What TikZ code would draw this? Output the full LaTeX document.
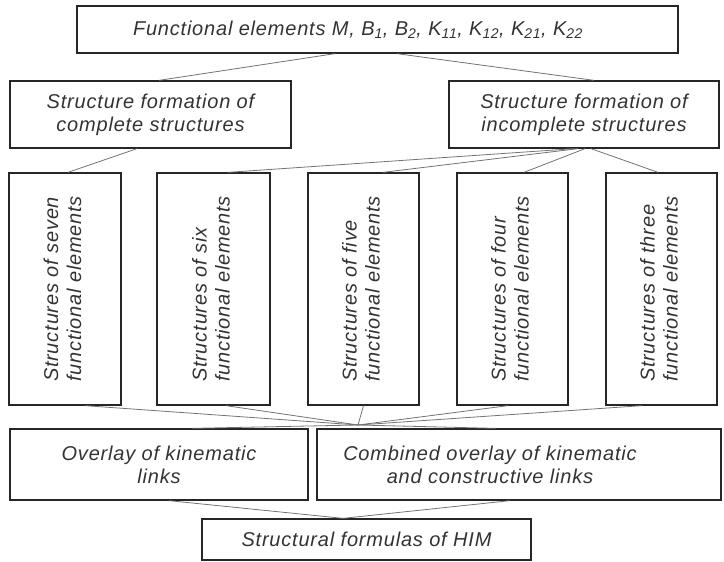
\documentclass[tikz,border=0pt]{standalone}
\usepackage{fontspec}
\usepackage{graphicx}
\setmainfont{Liberation Sans}[LetterSpace=4]
\begin{document}
\begin{tikzpicture}[x=1pt,y=-1pt,
  lbl/.style={font=\itshape\fontsize{20}{23}\selectfont, text=black!80, align=center},
  box/.style={lbl, draw=black!85, line width=1.3pt, inner sep=0pt},
  txt/.style={lbl, inner sep=0pt},
  link/.style={draw=black!55, line width=0.8pt}]
\useasboundingbox (0,0) rectangle (724,562);
% level 1
\node[box, minimum width=601pt, minimum height=47pt] (top) at (377.5,29.5) {};
\node[txt] (topt) at (358,30) {Functional elements M, B\textsubscript{1}, B\textsubscript{2}, K\textsubscript{11}, K\textsubscript{12}, K\textsubscript{21}, K\textsubscript{22}};
% level 2
\node[box, minimum width=281pt, minimum height=67pt] (secL) at (150.5,114.5) {Structure formation of\\complete structures};
\node[box, minimum width=270pt, minimum height=67pt] (secR) at (584,114.5) {Structure formation of\\incomplete structures};
% level 3
\node[box, minimum width=112pt, minimum height=232pt] (v1) at (65,289) {\rotatebox{90}{\begin{tabular}{@{}l@{}}Structures of seven\\functional elements\end{tabular}}};
\node[box, minimum width=113pt, minimum height=232pt] (v2) at (213.5,289) {\rotatebox{90}{\begin{tabular}{@{}l@{}}Structures of six\\functional elements\end{tabular}}};
\node[box, minimum width=111pt, minimum height=232pt] (v3) at (363.5,289) {\rotatebox{90}{\begin{tabular}{@{}l@{}}Structures of five\\functional elements\end{tabular}}};
\node[box, minimum width=111pt, minimum height=232pt] (v4) at (512.5,289) {\rotatebox{90}{\begin{tabular}{@{}l@{}}Structures of four\\functional elements\end{tabular}}};
\node[box, minimum width=111pt, minimum height=232pt] (v5) at (661.5,289) {\rotatebox{90}{\begin{tabular}{@{}l@{}}Structures of three\\functional elements\end{tabular}}};
% level 4
\node[box, minimum width=298pt, minimum height=71pt] (ovL) at (159,464.5) {Overlay of kinematic\\links};
\node[box, minimum width=404pt, minimum height=71pt] (ovR) at (519,464.5) {};
\node[txt] (ovRt) at (490,464.5) {Combined overlay of kinematic\\and constructive links};
% level 5
\node[box, minimum width=329pt, minimum height=41pt] (bot) at (366.5,539.5) {Structural formulas of HIM};
\coordinate (J) at (358,425);
% connectors
\draw[link] ([xshift=-42.5pt]top.south) -- ([xshift=8.5pt]secL.north);
\draw[link] ([xshift=19.5pt]top.south) -- ([xshift=10pt]secR.north);
\draw[link] ([xshift=-13.5pt]secL.south) -- ([xshift=3pt]v1.north);
\draw[link] ([xshift=-10pt]secR.south) -- ([xshift=14.5pt]v2.north);
\draw[link] ([xshift=-6pt]secR.south) -- ([xshift=19.5pt]v3.north);
\draw[link] ([xshift=1pt]secR.south) -- ([xshift=11.5pt]v4.north);
\draw[link] ([xshift=7pt]secR.south) -- ([xshift=-3.5pt]v5.north);
\draw[link] ([xshift=20pt]v1.south) -- (J);
\draw[link] ([xshift=12.5pt]v2.south) -- (J);
\draw[link] (v3.south) -- (J);
\draw[link] ([xshift=-4.5pt]v4.south) -- (J);
\draw[link] ([xshift=-19.5pt]v5.south) -- (J);
\draw[link] (J) -- ([xshift=33pt]ovL.north);
\draw[link] (J) -- ([xshift=-23pt]ovR.north);
\draw[link] ([xshift=10pt]ovL.south) -- ([xshift=-23.5pt]bot.north);
\draw[link] ([xshift=-9pt]ovR.south) -- ([xshift=-23.5pt]bot.north);
\end{tikzpicture}
\end{document}
